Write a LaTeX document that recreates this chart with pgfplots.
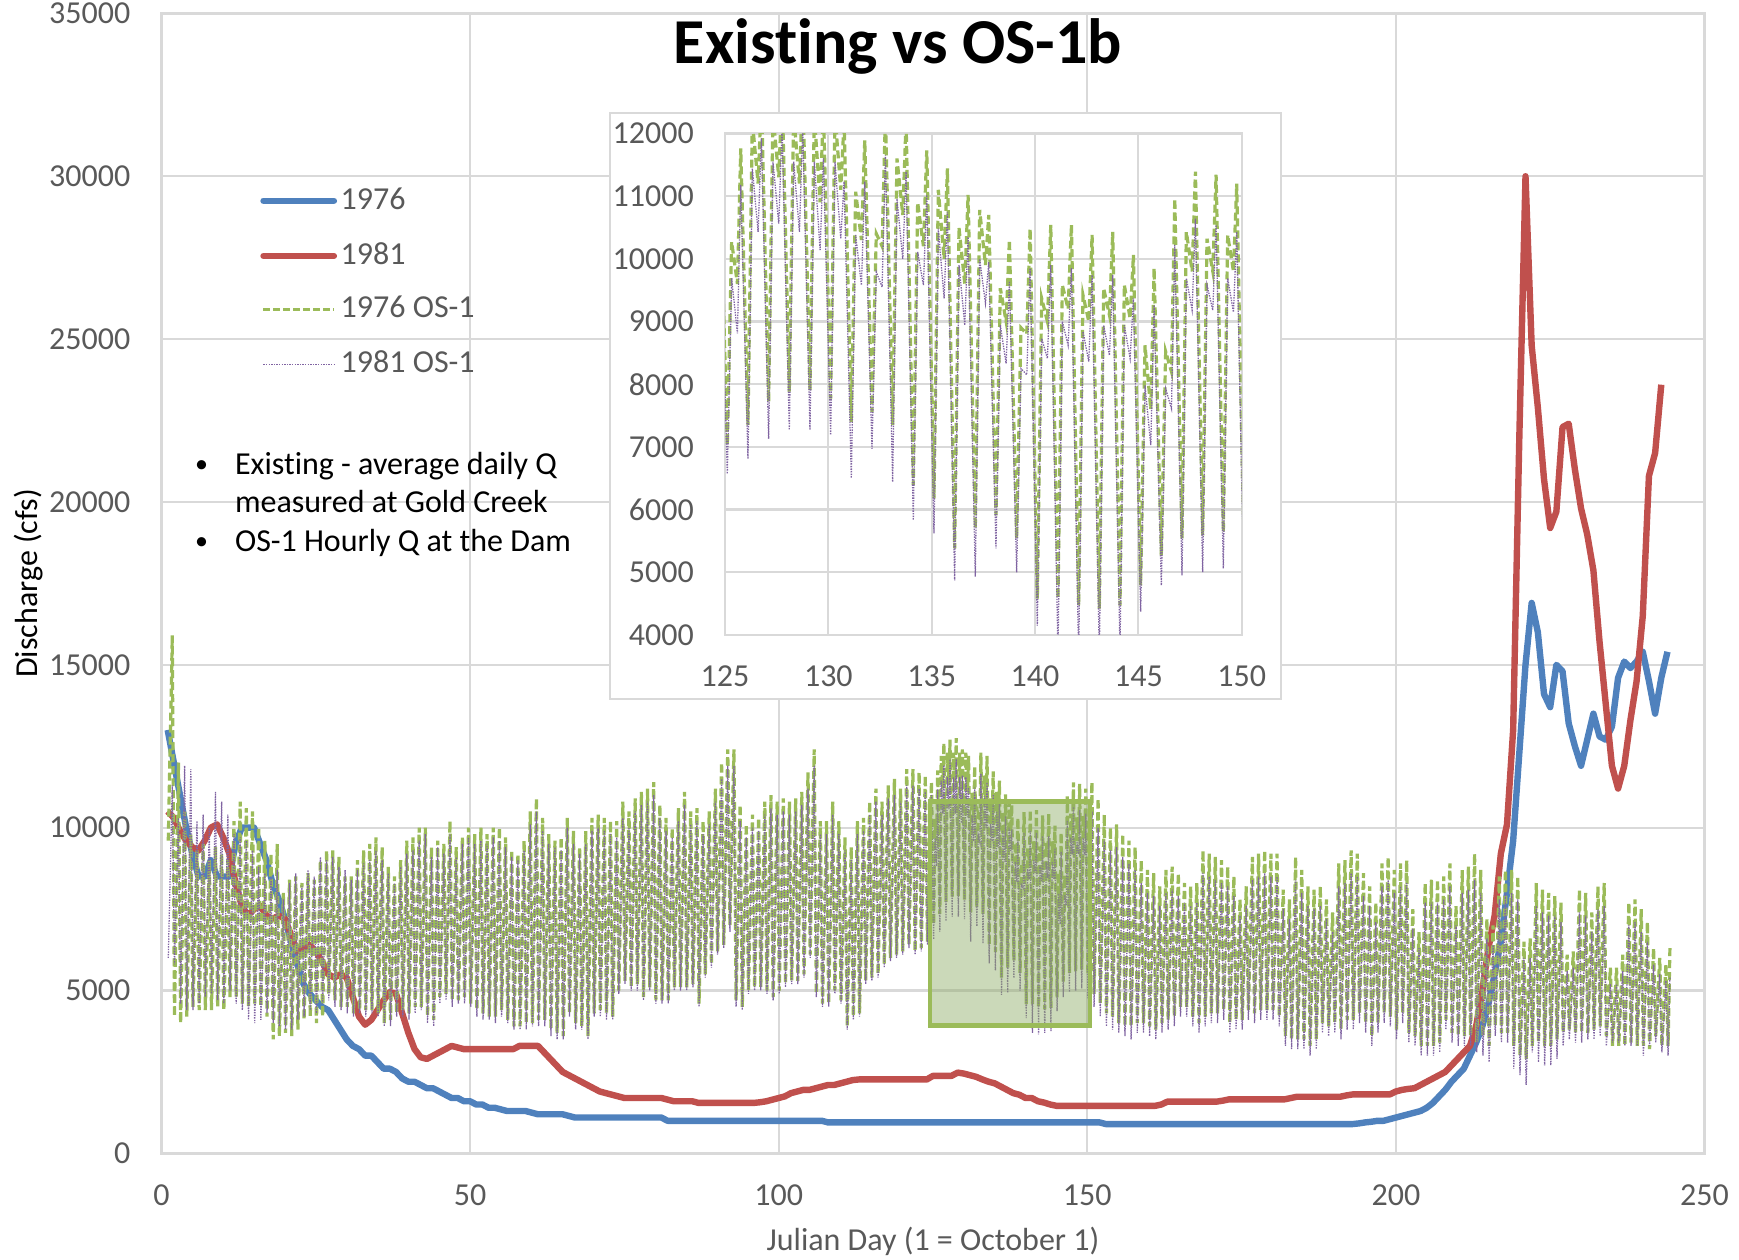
\documentclass[border=0pt]{standalone}
\usepackage{fontspec}
\setmainfont{Carlito}[Ligatures={NoCommon}]
\usepackage{pgfplots}
\pgfplotsset{compat=1.18}
\usepackage{pgfplotstable}
\definecolor{c76}{HTML}{4F81BD}
\definecolor{c81}{HTML}{C0504D}
\definecolor{cg}{HTML}{9BBB59}
\definecolor{cp}{HTML}{8064A2}
\definecolor{tgray}{HTML}{595959}
\definecolor{ggray}{HTML}{D9D9D9}
\definecolor{rectfill}{RGB}{140,170,100}

\tikzset{
  gline/.style={color=cg, line width=0.8pt, dash pattern=on 2pt off 1pt},
  pline/.style={color=cp, line width=0.32pt, dash pattern=on 0.35pt off 0.3pt},
}
\pgfplotsset{
  myaxis/.style={
    scale only axis,
    grid=major,
    grid style={draw=ggray, line width=0.55pt},
    axis line style={draw=ggray, line width=0.6pt},
    major tick length=0pt,
    tick label style={font=\fontsize{8}{9.6}\selectfont, text=tgray},
    /pgf/number format/assume math mode=true,
    /pgf/number format/1000 sep={},
    scaled ticks=false,
    yticklabel style={inner sep=0pt, xshift=-7.6pt},
    xticklabel style={inner sep=0pt, yshift=-7.6pt},
  },
}

% hourly OS-1 series (daily lows and highs; detailed for days 125-150)
\pgfplotstableread{
x g p
1.1 9600 6000
1.75 15900 11300
2.1 4200 5800
2.75 12000 10300
3.1 4000 4600
3.75 10500 11900
4.1 4200 4400
4.75 9800 11800
5.1 4500 4400
5.75 9300 10200
6.1 4400 4600
6.75 9500 10400
7.1 4400 4800
7.75 9000 10000
8.1 4400 4900
8.75 9400 11100
9.1 4500 4700
9.75 9200 10800
10.1 4400 4600
10.75 9000 10400
11.1 4800 5000
11.75 10200 9800
12.1 4800 4600
12.75 10800 9700
13.1 4600 4400
13.75 10600 9600
14.1 4500 4100
14.75 10500 9300
15.1 4600 4000
15.75 10000 8800
16.1 4500 4100
16.75 9600 8600
17.1 4200 4300
17.75 9200 8500
18.1 3500 4000
18.75 9500 8700
19.1 3600 3900
19.75 8000 7800
20.1 3700 3800
20.75 8400 8300
21.1 3600 3800
21.75 8500 8600
22.1 3800 4100
22.75 8300 8200
23.1 4100 4200
23.75 8600 8700
24.1 4200 4400
24.75 8400 8500
25.1 4000 4300
25.75 9000 9100
26.1 4200 4600
26.75 9300 9000
27.1 4900 4700
27.75 9300 9100
28.1 4700 4500
28.75 9100 8800
29.1 4500 4400
29.75 8500 8700
30.1 4500 4300
30.75 8500 8400
31.1 4300 4200
31.75 9000 8700
32.1 4400 4300
32.75 9300 8900
33.1 4400 4200
33.75 9500 9000
34.1 4400 4300
34.75 9700 9300
35.1 4300 4200
35.75 9400 9000
36.1 4000 3900
36.75 8800 8600
37.1 4100 3900
37.75 8500 8300
38.1 4300 4200
38.75 9000 8800
39.1 4400 4200
39.75 9600 9200
40.1 4300 4100
40.75 9700 9300
41.1 4500 4300
41.75 10000 9600
42.1 4500 4400
42.75 10000 9800
43.1 4200 4000
43.75 9400 9100
44.1 4100 3900
44.75 9600 9400
45.1 4800 4600
45.75 9500 9200
46.1 4900 4700
46.75 10200 9800
47.1 4700 4500
47.75 9400 9100
48.1 4700 4600
48.75 9700 9500
49.1 4800 4600
49.75 10000 9700
50.1 4600 4500
50.75 9800 9500
51.1 4400 4200
51.75 10000 9600
52.1 4300 4100
52.75 9800 9500
53.1 4200 4100
53.75 10000 9700
54.1 4200 4000
54.75 10000 9600
55.1 4400 4200
55.75 9700 9400
56.1 4100 4000
56.75 9300 9100
57.1 3900 3800
57.75 9200 9000
58.1 3900 3800
58.75 9600 9300
59.1 4000 3800
59.75 10500 10100
60.1 4000 3900
60.75 10900 10500
61.1 4100 3900
61.75 10300 9900
62.1 4100 3900
62.75 9800 9500
63.1 3800 3600
63.75 9600 9400
64.1 3700 3500
64.75 9700 9300
65.1 3600 3500
65.75 10300 10000
66.1 4300 4200
66.75 9900 9500
67.1 4000 3800
67.75 9400 9200
68.1 3900 3800
68.75 9900 9500
69.1 3600 3500
69.75 10300 9900
70.1 4300 4200
70.75 10400 10000
71.1 4400 4200
71.75 10300 9900
72.1 4300 4100
72.75 10200 9800
73.1 4200 4100
73.75 10200 9700
74.1 5000 4900
74.75 10800 10300
75.1 5300 5200
75.75 10500 10000
76.1 5100 5000
76.75 10900 10500
77.1 5200 5000
77.75 11100 10700
78.1 4800 4700
78.75 11200 10800
79.1 5100 5000
79.75 11400 11000
80.1 4700 4600
80.75 10700 10300
81.1 4700 4600
81.75 10300 9900
82.1 4700 4600
82.75 10000 9700
83.1 5100 5000
83.75 10600 10200
84.1 5100 5000
84.75 11100 10700
85.1 5100 5000
85.75 10500 10100
86.1 5200 5100
86.75 10600 10200
87.1 4600 4500
87.75 10200 9800
88.1 5500 5400
88.75 10500 10100
89.1 5800 5700
89.75 11200 10800
90.1 6200 6100
90.75 12000 11500
91.1 6400 6300
91.75 12400 11900
92.1 7000 6800
92.75 12400 11900
93.1 4700 4500
93.75 10700 10200
94.1 4500 4400
94.75 10100 9700
95.1 5000 4900
95.75 10400 10000
96.1 5100 5000
96.75 10300 9900
97.1 5100 5000
97.75 10800 10400
98.1 5000 4900
98.75 11000 10600
99.1 4800 4700
99.75 10800 10400
100.1 5000 4900
100.75 10900 10500
101.1 5200 5100
101.75 10800 10400
102.1 5300 5200
102.75 10900 10500
103.1 5300 5200
103.75 11100 10700
104.1 5500 5400
104.75 11700 11200
105.1 6100 6000
105.75 12400 11900
106.1 4900 4800
106.75 10200 9800
107.1 4600 4500
107.75 10200 9800
108.1 4600 4500
108.75 10800 10400
109.1 5000 4900
109.75 10200 9800
110.1 4700 4600
110.75 9700 9300
111.1 3900 3800
111.75 9400 9000
112.1 4200 4100
112.75 10200 9800
113.1 4300 4200
113.75 10300 9900
114.1 5300 5200
114.75 10800 10400
115.1 5400 5300
115.75 11200 10800
116.1 5500 5400
116.75 10800 10400
117.1 5800 5700
117.75 11300 10900
118.1 6000 5900
118.75 11500 11000
119.1 6100 6000
119.75 11200 10800
120.1 6200 6100
120.75 11800 11300
121.1 6400 6300
121.75 11800 11300
122.1 6200 6100
122.75 11700 11200
123.1 6300 6200
123.75 11600 11100
124.1 6500 6400
124.75 11400 11000
125.11 7030 6570
125.32 10270 9690
125.6 9600 8810
125.76 11760 11180
126.11 7350 6810
126.32 12200 11440
126.6 11200 10430
126.76 12600 11920
127.11 7720 7130
127.32 12300 11550
127.6 11300 10560
127.76 12700 12100
128.11 7880 7270
128.32 12300 11550
128.6 11200 10430
128.76 12750 12100
129.11 7900 7270
129.32 12300 11550
129.6 10900 10140
129.76 12400 11600
130.11 7770 7190
130.32 12300 11550
130.6 11100 10320
130.76 12200 11230
131.11 7400 6500
131.32 11070 10380
131.6 10300 9580
131.76 11890 11230
132.11 7560 6970
132.32 10400 9790
132.6 10200 9550
132.76 12300 11650
133.11 7350 6440
133.32 11600 10960
133.6 10700 10000
133.76 12200 11390
134.11 6390 5830
134.32 10900 10110
134.6 10200 9580
134.76 11730 11020
135.11 6180 5620
135.32 11100 10480
135.6 10000 9370
135.76 11440 10750
136.11 5380 4870
136.32 10500 9900
136.6 9600 8940
136.76 11020 10350
137.11 5700 4930
137.32 10780 10000
137.6 9900 9290
137.76 10700 9950
138.11 5910 5380
138.32 9530 8940
138.6 9000 8330
138.76 10300 9630
139.11 5540 5000
139.32 8900 8250
139.6 8800 8150
139.76 10480 9850
140.11 4580 4150
140.32 9370 8730
140.6 9000 8410
140.76 10540 9900
141.11 4580 3700
141.32 9580 9000
141.6 9200 8620
141.76 10540 9850
142.11 4470 3650
142.32 9420 8840
142.6 9000 8360
142.76 10380 9740
143.11 4420 3700
143.32 9530 8940
143.6 9100 8460
143.76 10430 9740
144.11 4470 3750
144.32 9580 8940
144.6 9050 8410
144.76 10060 9370
145.11 4790 4370
145.32 8620 7980
145.6 7600 7030
145.76 9850 9260
146.11 5270 4790
146.32 8520 7930
146.6 8200 7610
146.76 10960 10220
147.11 5540 4950
147.32 10430 9690
147.6 9800 9180
147.76 11390 10640
148.11 5590 5000
148.32 10320 9580
148.6 9800 9180
148.76 11340 10540
149.11 5640 5060
149.32 10380 9690
149.6 9800 9150
149.76 11200 10430
150.1 5480 4740
150.75 11400 10500
151.1 4900 4500
151.75 10900 10000
152.1 4600 4200
152.75 10400 9600
153.1 4300 3900
153.75 10000 9300
154.1 4200 3800
154.75 10100 9400
155.1 4000 3700
155.75 9800 9100
156.1 3900 3600
156.75 9600 8900
157.1 3900 3500
157.75 9400 8700
158.1 4000 3700
158.75 9000 8300
159.1 4000 3700
159.75 8700 8000
160.1 3900 3600
160.75 8600 7900
161.1 3800 3500
161.75 8200 7600
162.1 4000 3700
162.75 8700 8000
163.1 4100 3800
163.75 8800 8100
164.1 4200 3900
164.75 8600 7900
165.1 4500 4200
165.75 8300 7700
166.1 4500 4200
166.75 8200 7600
167.1 4200 3900
167.75 8300 7700
168.1 4000 3700
168.75 9300 8600
169.1 4200 3900
169.75 9200 8500
170.1 4300 4000
170.75 9100 8400
171.1 4300 4000
171.75 9000 8300
172.1 4400 4100
172.75 8800 8200
173.1 4000 3700
173.75 8500 7900
174.1 4100 3800
174.75 7800 7300
175.1 4100 3800
175.75 8200 7600
176.1 4400 4100
176.75 9100 8400
177.1 4300 4000
177.75 9200 8500
178.1 4400 4100
178.75 9300 8600
179.1 4400 4100
179.75 9200 8500
180.1 4400 4100
180.75 9200 8500
181.1 4200 3900
181.75 8100 7500
182.1 3600 3300
182.75 7800 7200
183.1 3500 3200
183.75 9100 8400
184.1 3500 3200
184.75 8700 8000
185.1 3500 3200
185.75 8200 7600
186.1 3300 3000
186.75 8100 7500
187.1 3500 3200
187.75 8200 7600
188.1 4000 3700
188.75 7800 7200
189.1 3900 3600
189.75 7400 6800
190.1 4000 3700
190.75 8900 8200
191.1 3800 3500
191.75 9000 8300
192.1 4100 3800
192.75 9300 8600
193.1 4100 3800
193.75 9200 8500
194.1 4300 4000
194.75 8600 7900
195.1 4000 3700
195.75 8200 7600
196.1 3600 3300
196.75 7700 7100
197.1 4000 3700
197.75 8900 8200
198.1 4300 4000
198.75 9100 8400
199.1 4200 3900
199.75 8700 8000
200.1 3800 3500
200.75 8900 8200
201.1 4300 4000
201.75 9000 8300
202.1 3700 3400
202.75 7500 6900
203.1 3600 3300
203.75 6800 6300
204.1 3300 3000
204.75 8300 7700
205.1 3300 3000
205.75 8400 7700
206.1 3300 3000
206.75 8400 7700
207.1 3400 3100
207.75 8500 7800
208.1 4100 3800
208.75 8900 8200
209.1 3700 3400
209.75 7600 7000
210.1 3600 3300
210.75 8700 8000
211.1 3600 3300
211.75 8800 8100
212.1 3600 3300
212.75 9200 8400
213.1 3400 3100
213.75 8700 8000
214.1 3600 3000
214.75 7200 6600
215.1 3300 2800
215.75 7000 6400
216.1 3900 3600
216.75 8500 7800
217.1 3700 3400
217.75 8700 8000
218.1 3700 3400
218.75 8700 8000
219.1 3300 2600
219.75 8500 7800
220.1 3000 2400
220.75 6500 6000
221.1 2900 2100
221.75 6600 6000
222.1 3300 3100
222.75 8300 7600
223.1 3400 2800
223.75 8100 7400
224.1 3300 2700
224.75 8000 7300
225.1 3300 2700
225.75 7900 7300
226.1 3500 2900
226.75 7700 7100
227.1 3700 3300
227.75 6100 5600
228.1 3800 3500
228.75 6200 5700
229.1 3700 3400
229.75 8100 7400
230.1 3700 3400
230.75 8000 7300
231.1 3700 3500
231.75 7400 6800
232.1 3800 3500
232.75 8200 7500
233.1 3900 3600
233.75 8300 7600
234.1 3600 3300
234.75 5700 5200
235.1 3300 3400
235.75 5700 5200
236.1 3300 3400
236.75 6100 5600
237.1 3300 3300
237.75 7700 7000
238.1 3400 3300
238.75 7800 7100
239.1 3300 3300
239.75 7500 6800
240.1 3300 3000
240.75 7100 6500
241.1 3200 3300
241.75 6300 5800
242.1 3600 3400
242.75 6000 5500
243.1 3300 3100
243.75 5800 5300
244.1 3300 3000
244.4 6300 5400
}\hourly

% 1976 average daily Q at Gold Creek
\pgfplotstableread{
x q
1 13000
2 12000
3 11000
4 10000
5 9200
6 8500
7 8500
8 9000
9 8500
10 8500
11 8500
12 9500
13 10000
14 10000
15 10000
16 9500
17 9000
18 8300
19 7800
20 7200
21 6500
22 5800
23 5200
24 4900
25 4700
26 4500
27 4400
28 4100
29 3800
30 3500
31 3300
32 3200
33 3000
34 3000
35 2800
36 2600
37 2600
38 2500
39 2300
40 2200
41 2200
42 2100
43 2000
44 2000
45 1900
46 1800
47 1700
48 1700
49 1600
50 1600
51 1500
52 1500
53 1400
54 1400
55 1350
56 1300
59 1300
60 1250
61 1200
65 1200
66 1150
67 1100
81 1100
82 1000
107 1000
108 950
152 950
153 900
193 900
194 920
195 950
196 970
197 1000
198 1000
199 1050
200 1100
201 1150
202 1200
203 1250
204 1300
205 1400
206 1550
207 1750
208 1950
209 2200
210 2400
211 2600
212 3000
213 3400
214 3900
215 4600
216 5500
217 6500
218 8000
219 9600
220 12300
221 15000
222 16900
223 16000
224 14100
225 13700
226 15000
227 14800
228 13200
229 12500
230 11900
231 12700
232 13500
233 12800
234 12700
235 13100
236 14600
237 15100
238 14900
239 15100
240 15400
241 14500
242 13500
243 14600
244 15400
}\dailyA

% 1981 average daily Q at Gold Creek
\pgfplotstableread{
x q
1 10500
2 10300
3 9900
4 9600
5 9400
6 9300
7 9600
8 10000
9 10100
10 9700
11 9200
12 8300
13 7600
14 7300
15 7500
16 7600
17 7300
18 7200
19 7300
20 7200
21 6700
22 6200
23 6300
24 6400
25 6200
26 5900
27 5500
28 5400
29 5500
30 5400
31 4800
32 4200
33 3950
34 4100
35 4400
36 4700
37 4950
38 4900
39 4300
40 3700
41 3200
42 2950
43 2900
44 3000
45 3100
46 3200
47 3300
48 3250
49 3200
57 3200
58 3300
61 3300
62 3100
63 2900
64 2700
65 2500
66 2400
67 2300
68 2200
69 2100
70 2000
71 1900
72 1850
73 1800
74 1750
75 1700
81 1700
82 1650
83 1600
86 1600
87 1550
96 1550
97 1570
98 1600
99 1650
100 1700
101 1750
102 1850
103 1900
104 1950
105 1950
106 2000
107 2050
108 2100
109 2100
110 2150
111 2200
112 2250
113 2270
124 2270
125 2380
128 2380
129 2480
130 2450
131 2400
132 2350
133 2270
134 2200
135 2150
136 2050
137 1950
138 1850
139 1800
140 1700
141 1700
142 1600
143 1560
144 1500
145 1460
161 1460
162 1500
163 1590
171 1590
172 1620
173 1660
182 1660
183 1700
184 1740
191 1740
192 1780
193 1810
199 1810
200 1900
201 1950
202 1980
203 2000
204 2100
205 2200
206 2300
207 2400
208 2500
209 2700
210 2900
211 3100
212 3300
213 3900
214 5000
215 6300
216 7300
217 9200
218 10100
219 13000
220 22000
221 30000
222 24800
223 22900
224 20700
225 19200
226 19700
227 22300
228 22400
229 21000
230 19800
231 19000
232 17900
233 15700
234 13800
235 11900
236 11200
237 11900
238 13300
239 14500
240 16500
241 20800
242 21500
243 23600
}\dailyB

\begin{document}
\begin{tikzpicture}
\useasboundingbox (-40.375pt,-26.65pt) rectangle (394.375pt,288.35pt);
\begin{axis}[
  myaxis,
  at={(0pt,0pt)}, anchor=south west,
  width=385.75pt, height=285pt,
  xmin=0, xmax=250, ymin=0, ymax=35000,
  xtick={0,50,...,250}, ytick={0,5000,...,35000},
  xlabel={Julian Day (1 = October 1)},
  ylabel={Discharge (cfs)},
  xlabel style={at={(axis description cs:0.5,-0.0856)}, anchor=base, inner sep=0pt,
    font=\fontsize{8}{9.6}\selectfont, text=tgray},
  ylabel style={at={(axis description cs:-0.0801,0.5)}, anchor=base, inner sep=0pt,
    font=\fontsize{8}{9.6}\selectfont, text=black},
  title={Existing vs OS-1b},
  title style={at={(axis description cs:0.4773,0.9556)}, anchor=base, inner sep=0pt,
    yshift=-6pt, font=\fontsize{16}{19}\selectfont\bfseries},
]
\addplot[c76, line width=1.6pt, line join=round] table[x=x, y=q] {\dailyA};
\addplot[c81, line width=1.6pt, line join=round] table[x=x, y=q] {\dailyB};
\addplot[gline] table[x=x, y=g] {\hourly};
\addplot[pline] table[x=x, y=p] {\hourly};
\draw[draw=cg, line width=1.1pt, fill=rectfill, fill opacity=0.45]
  (axis cs:124.5,3930) rectangle (axis cs:150.4,10800);
\end{axis}

% legend
\draw[c76, line width=1.6pt, line cap=round] (25.5pt,238.15pt) -- (43.1pt,238.15pt);
\draw[c81, line width=1.6pt, line cap=round] (25.5pt,224.35pt) -- (43.1pt,224.35pt);
\draw[gline, line width=0.6pt, dash pattern=on 1.6pt off 0.9pt] (25.5pt,210.95pt) -- (43.1pt,210.95pt);
\draw[pline] (25.5pt,197.15pt) -- (43.1pt,197.15pt);
\begin{scope}[every node/.style={inner sep=0pt, anchor=base west, font=\fontsize{8}{9.6}\selectfont, text=tgray}]
\node at (44.6pt,235.85pt) {1976};
\node at (44.6pt,222.25pt) {1981};
\node at (44.6pt,208.85pt) {1976 OS-1};
\node at (44.6pt,195.15pt) {1981 OS-1};
\end{scope}

% notes
\begin{scope}[every node/.style={inner sep=0pt, font=\fontsize{8}{9.6}\selectfont, text=black}]
\node[anchor=base] at (10.05pt,170.2pt) {\fontsize{6.5}{7}\selectfont •};
\node[anchor=base west] at (18.2pt,169.6pt) {Existing - average daily Q};
\node[anchor=base west] at (18.2pt,160.2pt) {measured at Gold Creek};
\node[anchor=base] at (10.05pt,151.0pt) {\fontsize{6.5}{7}\selectfont •};
\node[anchor=base west] at (18.2pt,150.4pt) {OS-1 Hourly Q at the Dam};
\end{scope}

% inset
\filldraw[fill=white, draw=ggray, line width=0.6pt] (112.1pt,113.6pt) rectangle (279.9pt,260.1pt);
\begin{axis}[
  myaxis,
  at={(140.875pt,129.6pt)}, anchor=south west,
  width=129.175pt, height=125.4pt,
  xmin=125, xmax=150, ymin=4000, ymax=12000,
  xtick={125,130,...,150}, ytick={4000,5000,...,12000},
]
\addplot[gline] table[x=x, y=g] {\hourly};
\addplot[pline] table[x=x, y=p] {\hourly};
\end{axis}
\end{tikzpicture}
\end{document}
